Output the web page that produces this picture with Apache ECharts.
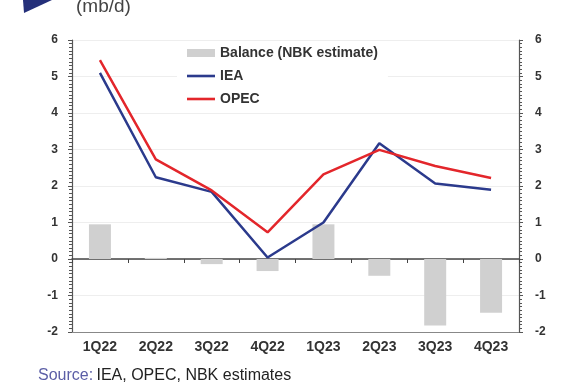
<!DOCTYPE html>
<html>
<head>
<meta charset="utf-8">
<script src="https://cdn.jsdelivr.net/npm/echarts@6/dist/echarts.min.js"></script>
<style>
  html, body { margin: 0; padding: 0; background: #fff; }
  #main { width: 564px; height: 384px; }
</style>
</head>
<body>
<div id="main"></div>
<script>
// 数据
var quarters = ["1Q22", "2Q22", "3Q22", "4Q22", "1Q23", "2Q23", "3Q23", "4Q23"];
var balance = [0.95, 0.03, -0.14, -0.33, 0.95, -0.46, -1.82, -1.47];
var iea = [5.1, 2.24, 1.84, 0.04, 1.0, 3.17, 2.07, 1.9];
var opec = [5.45, 2.73, 1.88, 0.73, 2.32, 2.99, 2.55, 2.22];
var yMin = -2, yMax = 6;

var chart = echarts.init(document.getElementById("main"));
var font = "Liberation Sans, Arial, sans-serif";
// 图例里的线条图标（细长条，不带圆点）
var lineIcon = "path://M0,0 L28,0 L28,2.6 L0,2.6 Z";

// 左右两个y轴样式一样
function valueAxis(pos) {
  return {
    type: "value",
    position: pos,
    min: yMin,
    max: yMax,
    interval: 1,
    axisLine: { show: true, lineStyle: { color: "#555", width: 1.2 } },
    axisTick: { show: true, length: 4, lineStyle: { color: "#555" } },
    minorTick: { show: true, splitNumber: 10, length: 3, lineStyle: { color: "#555" } },
    axisLabel: { color: "#333", fontSize: 12, fontWeight: "bold", fontFamily: font, margin: pos === "left" ? 14 : 16 },
    splitLine: { show: pos === "left", lineStyle: { color: "#eeeeee", width: 1 } }
  };
}

var option = {
  animation: false,
  grid: { left: 72, right: 45, top: 40, bottom: 52 },
  legend: {
    orient: "vertical",
    left: 177,
    top: 41,
    itemWidth: 28,
    itemHeight: 8,
    itemGap: 7,
    padding: [4, 10],
    backgroundColor: "#fff",
    textStyle: { color: "#333", fontSize: 14, fontWeight: "bold", fontFamily: font, lineHeight: 16 },
    data: [
      { name: "Balance (NBK estimate)", icon: "rect" },
      { name: "IEA", icon: lineIcon },
      { name: "OPEC", icon: lineIcon }
    ]
  },
  xAxis: [
    {
      // 零线 + 分隔刻度
      type: "category",
      data: quarters,
      axisLine: { onZero: true, lineStyle: { color: "#444", width: 1.5 } },
      axisTick: { show: true, length: 4, lineStyle: { color: "#444" } },
      axisLabel: { show: false }
    },
    {
      // 底部边框和标签
      type: "category",
      data: quarters,
      position: "bottom",
      axisLine: { onZero: false, lineStyle: { color: "#888", width: 1 } },
      axisTick: { show: false },
      axisLabel: { color: "#333", fontSize: 14, fontWeight: "bold", fontFamily: font, margin: 8 }
    }
  ],
  yAxis: [valueAxis("left"), valueAxis("right")],
  series: [
    {
      name: "Balance (NBK estimate)",
      type: "bar",
      xAxisIndex: 0,
      yAxisIndex: 0,
      barWidth: 22,
      itemStyle: { color: "#d0d0d0" },
      data: balance
    },
    {
      name: "IEA",
      type: "line",
      xAxisIndex: 0,
      yAxisIndex: 0,
      symbol: "none",
      lineStyle: { color: "#2b3a8c", width: 2.5 },
      itemStyle: { color: "#2b3a8c" },
      data: iea
    },
    {
      name: "OPEC",
      type: "line",
      xAxisIndex: 0,
      yAxisIndex: 0,
      symbol: "none",
      lineStyle: { color: "#e3262b", width: 2.5 },
      itemStyle: { color: "#e3262b" },
      data: opec
    }
  ],
  graphic: [
    {
      type: "polygon",
      shape: { points: [[23, 0], [52, 0], [24, 13]] },
      style: { fill: "#25307a" }
    },
    {
      type: "text",
      left: 76,
      top: -3,
      style: { text: "(mb/d)", fill: "#444", font: "19px " + font }
    },
    {
      type: "text",
      left: 38,
      top: 368,
      style: {
        text: "{a|Source:} {b|IEA, OPEC, NBK estimates}",
        rich: {
          a: { fill: "#5b5ea6", fontSize: 16, fontFamily: font },
          b: { fill: "#222", fontSize: 16, fontFamily: font }
        }
      }
    }
  ]
};

chart.setOption(option);
</script>
</body>
</html>
